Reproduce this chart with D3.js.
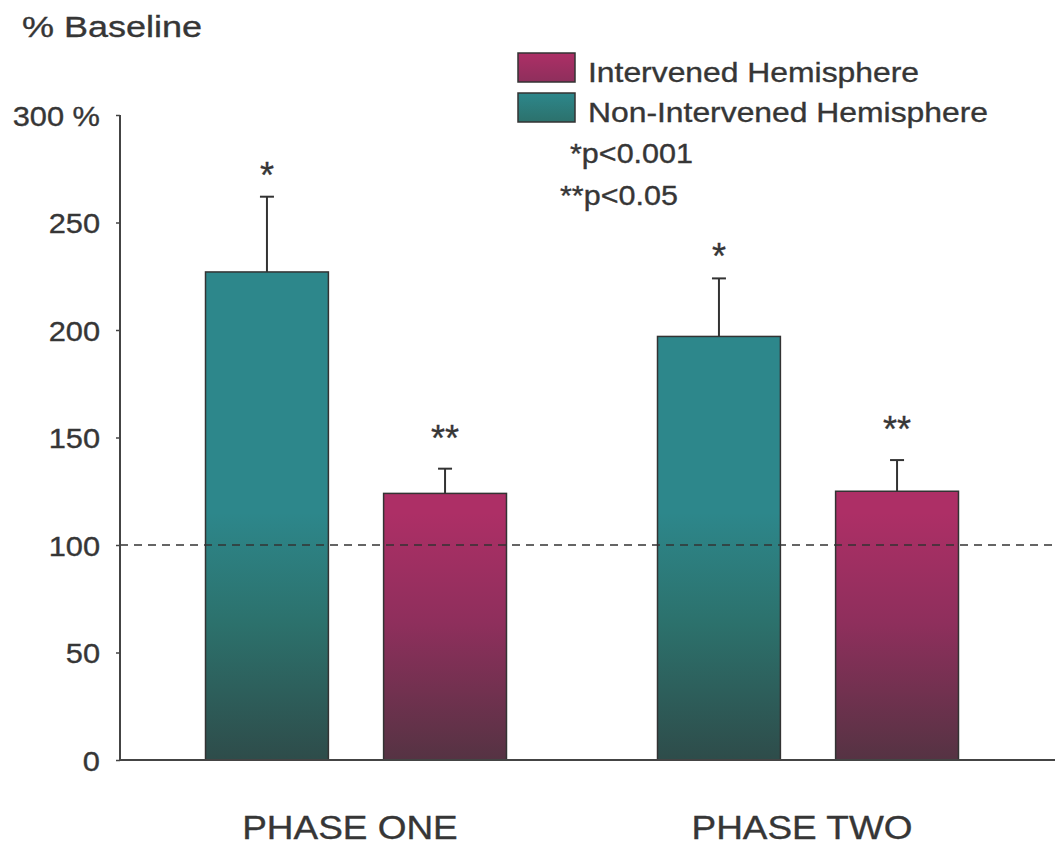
<!DOCTYPE html>
<html>
<head>
<meta charset="utf-8">
<script src="https://cdn.jsdelivr.net/npm/d3@7"></script>
<style>
  body { margin: 0; background: #fff; }
  text { font-family: "Liberation Sans", Arial, sans-serif; fill: #363636; stroke: #363636; stroke-width: 0.35px; }
</style>
</head>
<body>
<div id="chart"></div>
<script>
// chart data
let phases = ["PHASE ONE", "PHASE TWO"];
let seriesNames = ["Non-Intervened Hemisphere", "Intervened Hemisphere"];
let nonIntervened = [227, 197];
let nonIntervenedErr = [35, 27];
let intervened = [124, 125];
let intervenedErr = [11.5, 14.5];
let marks = ["*", "**"];
let yTicks = [0, 50, 100, 150, 200, 250, 300];
let baselineValue = 100;
let legendOrder = ["Intervened Hemisphere", "Non-Intervened Hemisphere"];
let pNotes = ["*p<0.001", "**p<0.05"];

let svgWidth = 1058;
let svgHeight = 848;

let svg = d3.select("#chart")
    .append("svg")
    .attr("width", svgWidth)
    .attr("height", svgHeight);

// gradients: bright at the top, darker toward the x axis
let colors = {
    "Non-Intervened Hemisphere": { top: "#2d878b", mid: "#2c716c", bottom: "#2e4c4a" },
    "Intervened Hemisphere": { top: "#ad2f66", mid: "#8e2f5c", bottom: "#553343" }
};

let y = d3.scaleLinear()
    .domain([0, 300])
    .range([760, 115]);

let defs = svg.append("defs");
seriesNames.forEach((s, i) => {
    let g = defs.append("linearGradient")
        .attr("id", "grad" + i)
        .attr("gradientUnits", "userSpaceOnUse")
        .attr("x1", 0).attr("x2", 0)
        .attr("y1", y(115)).attr("y2", y(0));
    g.append("stop").attr("offset", "0%").attr("stop-color", colors[s].top);
    g.append("stop").attr("offset", "45%").attr("stop-color", colors[s].mid);
    g.append("stop").attr("offset", "100%").attr("stop-color", colors[s].bottom);

    let lg = defs.append("linearGradient")
        .attr("id", "lgrad" + i)
        .attr("x1", 0).attr("x2", 0).attr("y1", 0).attr("y2", 1);
    lg.append("stop").attr("offset", "0%").attr("stop-color", colors[s].top);
    lg.append("stop").attr("offset", "100%").attr("stop-color", colors[s].mid);
});

// the scanned picture is a bit wider than tall, so stretch text sideways
function stretch(sel, origin, k) {
    sel.style("transform-box", "fill-box")
        .style("transform-origin", origin)
        .style("transform", `scaleX(${k})`);
}

let x0 = d3.scaleBand()
    .domain(phases)
    .range([130, 1034])
    .paddingInner(0)
    .paddingOuter(0);

let x1 = d3.scaleBand()
    .domain(seriesNames)
    .range([0, x0.bandwidth()])
    .paddingInner(0.31)
    .paddingOuter(0.424);

// build rows from the arrays
let rows = [];
phases.forEach((p, i) => {
    rows.push({ phase: p, series: seriesNames[0], value: nonIntervened[i], err: nonIntervenedErr[i], mark: marks[0], idx: 0 });
    rows.push({ phase: p, series: seriesNames[1], value: intervened[i], err: intervenedErr[i], mark: marks[1], idx: 1 });
});

let cx = d => x0(d.phase) + x1(d.series) + x1.bandwidth() / 2;

// bars
svg.selectAll("rect.bar")
    .data(rows)
    .enter()
    .append("rect")
    .attr("class", "bar")
    .attr("x", d => x0(d.phase) + x1(d.series))
    .attr("y", d => y(d.value))
    .attr("width", x1.bandwidth())
    .attr("height", d => y(0) - y(d.value))
    .attr("fill", d => `url(#grad${d.idx})`)
    .attr("stroke", "#333")
    .attr("stroke-width", 1.5);

// error bars
let errG = svg.selectAll("g.err")
    .data(rows)
    .enter()
    .append("g")
    .attr("class", "err")
    .attr("stroke", "#333")
    .attr("stroke-width", 2);

errG.append("line")
    .attr("x1", cx)
    .attr("x2", cx)
    .attr("y1", d => y(d.value))
    .attr("y2", d => y(d.value + d.err));

errG.append("line")
    .attr("x1", d => cx(d) - 7)
    .attr("x2", d => cx(d) + 7)
    .attr("y1", d => y(d.value + d.err))
    .attr("y2", d => y(d.value + d.err));

// significance stars
svg.selectAll("text.mark")
    .data(rows)
    .enter()
    .append("text")
    .attr("class", "mark")
    .attr("x", cx)
    .attr("y", d => y(d.value + d.err) - (d.mark.length > 1 ? 18 : 9))
    .attr("text-anchor", "middle")
    .attr("font-size", 36)
    .text(d => d.mark);

// dashed baseline at 100 %
svg.append("line")
    .attr("x1", 120)
    .attr("x2", 1055)
    .attr("y1", y(baselineValue))
    .attr("y2", y(baselineValue))
    .attr("stroke", "#333")
    .attr("stroke-width", 1.5)
    .attr("stroke-dasharray", "8,6");

// y axis
let yAxis = d3.axisLeft(y)
    .tickValues(yTicks)
    .tickSize(4)
    .tickPadding(16)
    .tickFormat(d => d === 300 ? "300 %" : d);

let yG = svg.append("g")
    .attr("transform", "translate(120,0)")
    .call(yAxis);
yG.select(".domain").attr("stroke", "#444").attr("stroke-width", 2).attr("d", `M0,${y(300)}V${y(0)}`);
yG.selectAll(".tick line").attr("stroke", "#444").attr("stroke-width", 1.5);
yG.selectAll(".tick text")
    .attr("font-size", 28)
    .attr("font-family", null)
    .attr("fill", "#363636")
    .attr("dy", "0.36em");
stretch(yG.selectAll(".tick text"), "right center", 1.1);

// x axis line
svg.append("line")
    .attr("x1", 120)
    .attr("x2", 1055)
    .attr("y1", y(0))
    .attr("y2", y(0))
    .attr("stroke", "#444")
    .attr("stroke-width", 2);

// category labels
let cat = svg.selectAll("text.cat")
    .data(phases)
    .enter()
    .append("text")
    .attr("class", "cat")
    .attr("x", d => x0(d) + x0.bandwidth() / 2 - 6)
    .attr("y", 839)
    .attr("text-anchor", "middle")
    .attr("font-size", 33)
    .text(d => d);
stretch(cat, "center", 1.12);

// y title
let yTitle = svg.append("text")
    .attr("x", 22)
    .attr("y", 37)
    .attr("font-size", 30)
    .text("% Baseline");
stretch(yTitle, "left center", 1.2);

// legend
let legend = svg.selectAll("g.legend")
    .data(legendOrder)
    .enter()
    .append("g")
    .attr("class", "legend")
    .attr("transform", (d, i) => `translate(518, ${53 + i * 40})`);

legend.append("rect")
    .attr("width", 57)
    .attr("height", 29)
    .attr("fill", d => `url(#lgrad${seriesNames.indexOf(d)})`)
    .attr("stroke", "#333")
    .attr("stroke-width", 1.5);

let legText = legend.append("text")
    .attr("x", 70)
    .attr("y", 29)
    .attr("font-size", 27)
    .text(d => d);
stretch(legText, "left center", 1.18);

let notes = svg.selectAll("text.note")
    .data(pNotes)
    .enter()
    .append("text")
    .attr("class", "note")
    .attr("x", (d, i) => i === 0 ? 570 : 560)
    .attr("y", (d, i) => 163 + i * 42)
    .attr("font-size", 27)
    .text(d => d);
stretch(notes, "left center", 1.13);
</script>
</body>
</html>
